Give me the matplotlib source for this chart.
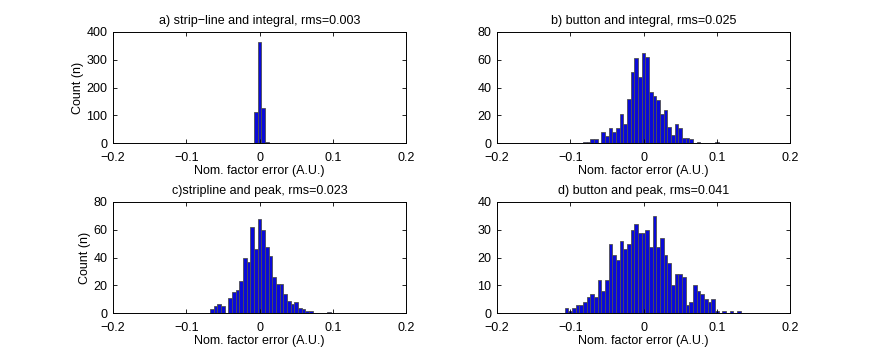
#!/usr/bin/env python3
"""
Four histograms of the nominal factor error (strip-line / button, integral / peak).

Output: out.png
"""
import numpy as np
import matplotlib.pyplot as plt

BIN = 0.005  # bin width (A.U.)

# a) strip-line and integral
a_start = -0.010
a_counts = [2, 114, 365, 126, 3]

# b) button and integral
b_start = -0.080
b_counts = [1, 1, 3, 3, 0, 8, 5, 11, 8, 11,
            21, 14, 32, 51, 61, 48, 65, 62, 37, 34,
            31, 21, 24, 12, 6, 14, 11, 4, 4, 3,
            0, 1, 0, 0, 0, 0, 1]

# c) stripline and peak
c_start = -0.065
c_counts = [3, 5, 7, 5, 0, 11, 15, 17, 23, 40,
            37, 62, 46, 68, 60, 48, 41, 26, 21, 21,
            14, 9, 7, 8, 4, 3, 2, 2, 0, 0,
            0, 0, 1]

# d) button and peak
d_start = -0.105
d_counts = [2, 1, 2, 3, 3, 4, 6, 7, 6, 12,
            8, 12, 25, 21, 19, 26, 23, 25, 30, 32,
            29, 29, 30, 24, 35, 24, 27, 21, 18, 10,
            14, 14, 13, 3, 4, 10, 8, 7, 5, 4,
            5, 1, 0, 1, 0, 1, 0, 1]

titles = ['a) strip\u2212line and integral, rms=0.003',
          'b) button and integral, rms=0.025',
          'c)stripline and peak, rms=0.023',
          'd) button and peak, rms=0.041']
yticks = [[0, 100, 200, 300, 400],
          [0, 20, 40, 60, 80],
          [0, 20, 40, 60, 80],
          [0, 10, 20, 30, 40]]
xticks = [-0.2, -0.1, 0, 0.1, 0.2]
xticklabels = ['\u22120.2', '\u22120.1', '0', '0.1', '0.2']


def main():
    plt.rcParams['font.family'] = ['Liberation Sans', 'DejaVu Sans']
    plt.rcParams['font.size'] = 9
    plt.rcParams['axes.linewidth'] = 0.7
    fig = plt.figure(figsize=(8.72, 3.59), dpi=100)

    W, H = 872.0, 359.0
    boxes = [(113, 32), (497, 32), (113, 202), (497, 202)]
    data = [(a_start, a_counts), (b_start, b_counts),
            (c_start, c_counts), (d_start, d_counts)]

    for i, ((px, py), (start, counts)) in enumerate(zip(boxes, data)):
        ax = fig.add_axes([px / W, 1 - (py + 111.3) / H, 293 / W, 111.3 / H])
        centers = np.round(start + BIN * np.arange(len(counts)), 4)
        ax.bar(centers, counts, width=BIN, color='#0a0ad8',
               edgecolor='#505050', linewidth=0.6)
        ax.set_xlim(-0.2, 0.2)
        ax.set_ylim(yticks[i][0], yticks[i][-1])
        ax.set_xticks(xticks)
        ax.set_xticklabels(xticklabels)
        ax.set_yticks(yticks[i])
        ax.tick_params(direction='in', top=True, right=True, length=3,
                       width=0.6, labelsize=9)
        ax.tick_params(axis='x', pad=6)
        ax.tick_params(axis='y', pad=4)
        ax.set_title(titles[i], fontsize=9, pad=6)
        ax.set_xlabel('Nom. factor error (A.U.)', fontsize=9, labelpad=1)
        if i % 2 == 0:
            ax.set_ylabel('Count (n)', fontsize=9, labelpad=2)

    fig.savefig('out.png', dpi=100, facecolor='white')


if __name__ == '__main__':
    main()
